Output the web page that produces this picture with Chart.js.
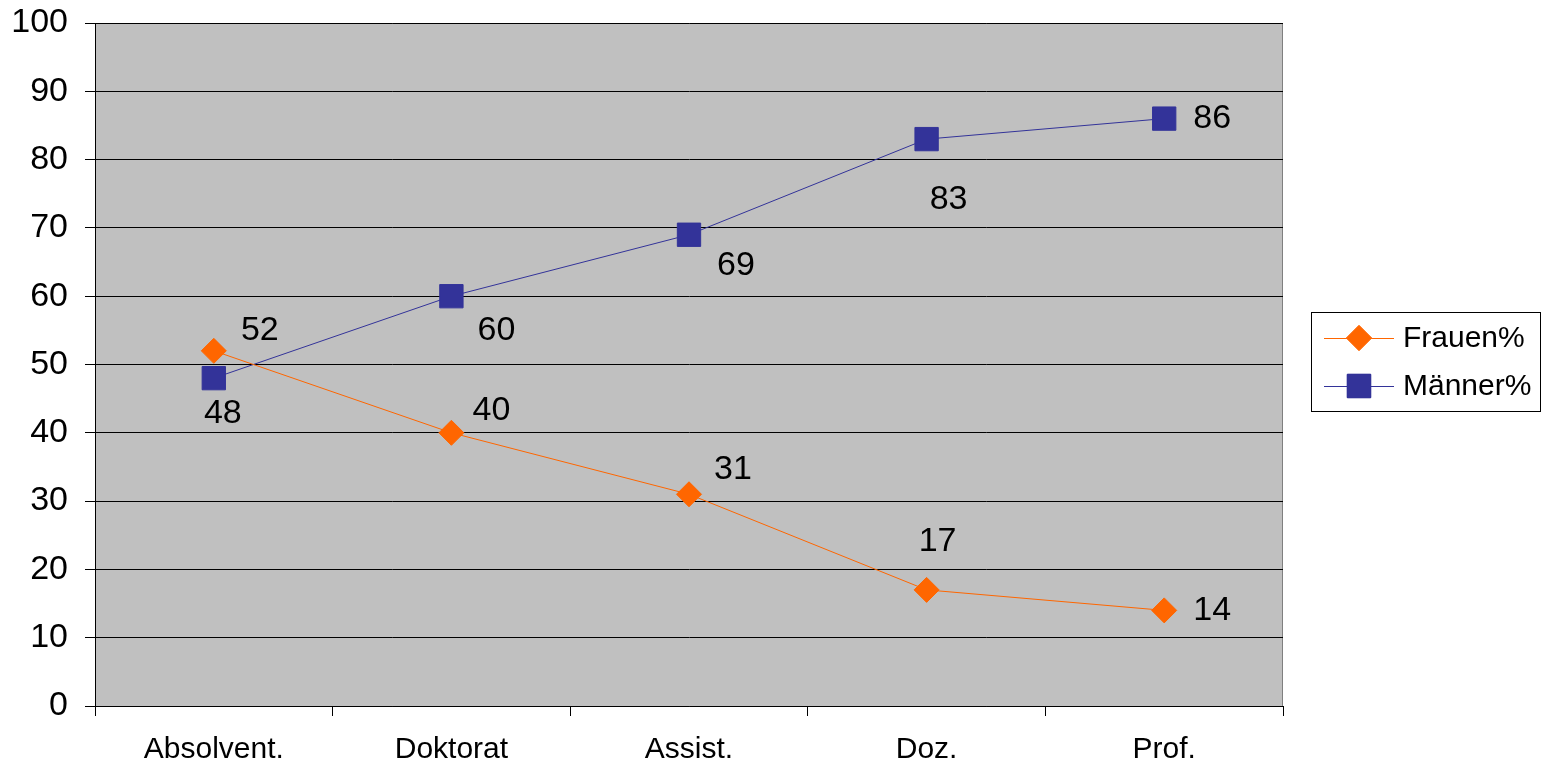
<!DOCTYPE html>
<html>
<head>
<meta charset="utf-8">
<script src="https://cdn.jsdelivr.net/npm/chart.js@4/dist/chart.umd.min.js"></script>
<style>
  html, body { margin: 0; padding: 0; background: #fff; }
  #wrap { width: 1547px; height: 764px; }
</style>
</head>
<body>
<div id="wrap"><canvas id="c" width="1547" height="764"></canvas></div>
<script>
// Anteil von Frauen und Männern je Qualifikationsstufe (in %)
const categories = ['Absolvent.', 'Doktorat', 'Assist.', 'Doz.', 'Prof.'];
const frauen = [52, 40, 31, 17, 14];
const maenner = [48, 60, 69, 83, 86];
const yTicks = [0, 10, 20, 30, 40, 50, 60, 70, 80, 90, 100];

// Label placement relative to each point (dx, dy in px)
const frauenLabelOffsets = [[46, -20], [40, -22], [44, -25], [11, -48], [48, 0]];
const maennerLabelOffsets = [[9, 35], [45, 34], [47, 31], [22, 61], [48, 0]];

const FONT = '"Liberation Sans", Arial, sans-serif';
const ORANGE = '#FF6600';
const BLUE = '#333399';

// Grey plot area with grey top/right frame
const plotBackground = {
  id: 'plotBackground',
  beforeDraw(chart) {
    const { ctx, chartArea: a } = chart;
    ctx.save();
    ctx.fillStyle = '#C0C0C0';
    ctx.fillRect(a.left, a.top, a.right - a.left, a.bottom - a.top);
    ctx.strokeStyle = '#808080';
    ctx.lineWidth = 1;
    ctx.beginPath();
    ctx.moveTo(a.left, a.top + 0.5);
    ctx.lineTo(a.right - 0.5, a.top + 0.5);
    ctx.lineTo(a.right - 0.5, a.bottom);
    ctx.stroke();
    ctx.restore();
  }
};

// Value labels next to each point
const valueLabels = {
  id: 'valueLabels',
  afterDatasetsDraw(chart) {
    const { ctx } = chart;
    const offsets = [frauenLabelOffsets, maennerLabelOffsets];
    ctx.save();
    ctx.font = '34px ' + FONT;
    ctx.fillStyle = '#000';
    ctx.textAlign = 'center';
    ctx.textBaseline = 'middle';
    chart.data.datasets.forEach((ds, i) => {
      const meta = chart.getDatasetMeta(i);
      meta.data.forEach((pt, j) => {
        const [dx, dy] = offsets[i][j];
        ctx.fillText(String(ds.data[j]), pt.x + dx, pt.y + dy);
      });
    });
    ctx.restore();
  }
};

// Boxed legend on the right
const boxLegend = {
  id: 'boxLegend',
  afterDraw(chart) {
    const { ctx } = chart;
    const box = { x: 1311.5, y: 312.5, w: 229, h: 99 };
    ctx.save();
    ctx.fillStyle = '#fff';
    ctx.fillRect(box.x, box.y, box.w, box.h);
    ctx.strokeStyle = '#000';
    ctx.lineWidth = 1;
    ctx.strokeRect(box.x, box.y, box.w, box.h);
    const rows = [338, 386];
    chart.data.datasets.forEach((ds, i) => {
      const y = rows[i];
      ctx.strokeStyle = ds.borderColor;
      ctx.lineWidth = 1;
      ctx.beginPath();
      ctx.moveTo(1324, y + 0.5);
      ctx.lineTo(1394, y + 0.5);
      ctx.stroke();
      Chart.helpers.drawPoint(ctx, {
        pointStyle: ds.pointStyle,
        radius: ds.pointRadius,
        borderWidth: 1,
        rotation: 0
      }, 1359, y);
      ctx.fillStyle = ds.backgroundColor;
      ctx.strokeStyle = ds.borderColor;
      ctx.fill();
      ctx.stroke();
      ctx.fillStyle = '#000';
      ctx.font = '30px ' + FONT;
      ctx.textAlign = 'left';
      ctx.textBaseline = 'middle';
      ctx.fillText(ds.label, 1403, y + 1);
    });
    ctx.restore();
  }
};

new Chart(document.getElementById('c'), {
  type: 'line',
  data: {
    labels: categories,
    datasets: [
      {
        label: 'Frauen%',
        data: frauen,
        borderColor: ORANGE,
        backgroundColor: ORANGE,
        borderWidth: 1,
        pointStyle: 'rectRot',
        pointRadius: 12.5,
        pointHoverRadius: 12.5,
        pointBorderWidth: 1,
        tension: 0
      },
      {
        label: 'Männer%',
        data: maenner,
        borderColor: BLUE,
        backgroundColor: BLUE,
        borderWidth: 1,
        pointStyle: 'rect',
        pointRadius: 16.5,
        pointHoverRadius: 16.5,
        pointBorderWidth: 1,
        tension: 0
      }
    ]
  },
  options: {
    responsive: false,
    animation: false,
    events: [],
    layout: { padding: { top: 23, right: 264, left: 0, bottom: 0 } },
    plugins: {
      legend: { display: false },
      tooltip: { enabled: false }
    },
    scales: {
      x: {
        type: 'category',
        offset: true,
        grid: {
          offset: true,
          drawOnChartArea: false,
          drawTicks: true,
          tickLength: 10,
          color: '#000'
        },
        border: { display: true, color: '#000', width: 1 },
        ticks: {
          color: '#000',
          font: { family: FONT, size: 30 },
          padding: 16,
          maxRotation: 0
        },
        afterFit(axis) {
          axis.height = 58;
          axis.paddingLeft = 0;
          axis.paddingRight = 0;
        }
      },
      y: {
        min: 0,
        max: 100,
        afterBuildTicks(axis) { axis.ticks = yTicks.map(v => ({ value: v })); },
        grid: {
          color: '#000',
          lineWidth: 1,
          drawTicks: true,
          tickLength: 10
        },
        border: { display: true, color: '#000', width: 1 },
        ticks: {
          color: '#000',
          font: { family: FONT, size: 34 },
          padding: 17
        },
        afterFit(axis) {
          axis.width = 95;
          axis.paddingTop = 0;
          axis.paddingBottom = 0;
        }
      }
    }
  },
  plugins: [plotBackground, valueLabels, boxLegend]
});
</script>
</body>
</html>
